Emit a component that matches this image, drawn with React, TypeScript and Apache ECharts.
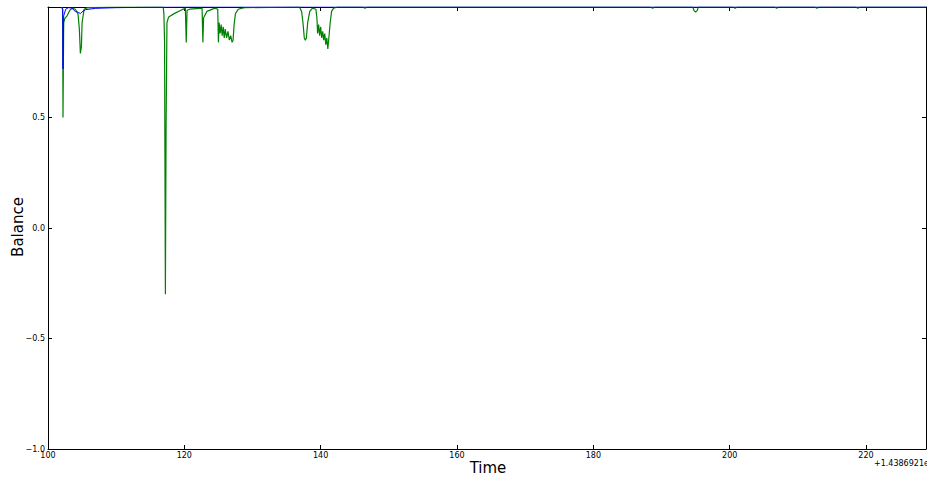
import React, { useEffect, useRef } from "react";
import * as echarts from "echarts";

// Time offsets (seconds past 1.4386921e9) and balance values
const greenSeries: [number, number][] = [
  [102.0, 1.0], [102.15, 0.99], [102.2, 0.5], [102.3, 0.93], [102.5, 0.95], [102.8, 0.96],
  [103.2, 0.985], [103.6, 0.995], [104.0, 0.99], [104.4, 0.97], [104.6, 0.9], [104.75, 0.79],
  [104.9, 0.82], [105.0, 0.93], [105.3, 0.99], [105.8, 0.997], [110.0, 0.999], [116.9, 1.0],
  [117.0, 0.97], [117.1, 0.84], [117.22, -0.3], [117.32, 0.44], [117.45, 0.93], [117.7, 0.955],
  [118.5, 0.97], [119.5, 0.985], [120.15, 0.995], [120.28, 0.84], [120.4, 0.985], [120.8, 0.99],
  [122.6, 0.995], [122.72, 0.84], [122.82, 0.95], [123.3, 0.98], [124.5, 0.995], [124.9, 0.99],
  [125.0, 0.84], [125.1, 0.93], [125.25, 0.88], [125.4, 0.92], [125.55, 0.87], [125.7, 0.91],
  [125.85, 0.86], [126.0, 0.9], [126.2, 0.86], [126.4, 0.89], [126.6, 0.85], [126.8, 0.87],
  [127.0, 0.84], [127.15, 0.85], [127.3, 0.92], [127.5, 0.97], [127.9, 0.99], [128.8, 0.997],
  [136.9, 1.0], [137.2, 0.98], [137.4, 0.93], [137.6, 0.86], [137.75, 0.85], [137.9, 0.86],
  [138.1, 0.93], [138.4, 0.98], [138.8, 0.995], [139.3, 0.99], [139.45, 0.95], [139.55, 0.88],
  [139.7, 0.92], [139.85, 0.87], [140.0, 0.91], [140.15, 0.86], [140.3, 0.89], [140.45, 0.85],
  [140.6, 0.88], [140.75, 0.83], [140.9, 0.86], [141.05, 0.81], [141.2, 0.86], [141.4, 0.93],
  [141.6, 0.98], [141.9, 0.995], [142.5, 1.0], [146.2, 1.0], [146.5, 0.994], [146.8, 1.0],
  [188.4, 1.0], [188.7, 0.994], [189.0, 1.0], [194.6, 1.0], [194.75, 0.985], [195.0, 0.977],
  [195.25, 0.985], [195.4, 1.0], [200.5, 1.0], [200.8, 0.994], [201.1, 1.0], [206.6, 1.0],
  [206.9, 0.994], [207.2, 1.0], [212.5, 1.0], [212.8, 0.994], [213.1, 1.0], [218.5, 1.0],
  [218.8, 0.994], [219.1, 1.0], [228.8, 1.0],
];

const blueSeries: [number, number][] = [
  [102.0, 1.0], [102.15, 0.99], [102.2, 0.72], [102.3, 0.96], [102.6, 0.99], [103.0, 0.997],
  [103.5, 0.995], [104.0, 0.98], [104.5, 0.975], [104.75, 0.97], [105.0, 0.978], [105.5, 0.988],
  [107.0, 0.994], [110.0, 0.997], [115.0, 0.999], [120.0, 1.0], [228.8, 1.0],
];

const xMin = 100;
const xMax = 228.8;
const xInterval = 20;
const yMin = -1;
const yMax = 1;
const yInterval = 0.5;
const offsetText = "+1.4386921e9";

const FONT = "DejaVu Sans";

const fmtY = (v: number) => (v === yMax ? "" : v.toFixed(1).replace("-", "\u2212"));
const fmtX = (v: number) => (v > 220 ? "" : String(Math.round(v)));

export default function App() {
  const ref = useRef<HTMLDivElement>(null);

  useEffect(() => {
    document.body.style.margin = "0";
    if (!ref.current) return;
    const chart = echarts.init(ref.current, undefined, { renderer: "svg" });

    const axisLine = { show: true, onZero: false, lineStyle: { color: "#000", width: 1 } };
    const tick = { show: true, inside: true, length: 4, lineStyle: { color: "#000", width: 1 } };
    const label = { color: "#000", fontSize: 8, fontFamily: FONT };

    chart.setOption({
      animation: false,
      backgroundColor: "#fff",
      grid: { left: 48, right: 1, top: 7, bottom: 28, containLabel: false },
      xAxis: [
        {
          type: "value", min: xMin, max: xMax, interval: xInterval, position: "bottom",
          axisLine, axisTick: tick, splitLine: { show: false },
          axisLabel: { ...label, margin: 2, formatter: fmtX, showMaxLabel: false },
        },
        {
          type: "value", min: xMin, max: xMax, interval: xInterval, position: "top",
          axisLine, axisTick: tick, splitLine: { show: false }, axisLabel: { show: false },
        },
      ],
      yAxis: [
        {
          type: "value", min: yMin, max: yMax, interval: yInterval, position: "left",
          axisLine, axisTick: tick, splitLine: { show: false },
          axisLabel: { ...label, margin: 3, formatter: fmtY },
        },
        {
          type: "value", min: yMin, max: yMax, interval: yInterval, position: "right",
          axisLine, axisTick: tick, splitLine: { show: false }, axisLabel: { show: false },
        },
      ],
      series: [
        {
          type: "line", data: greenSeries, showSymbol: false, symbol: "none",
          lineStyle: { color: "#008000", width: 1.2 }, z: 2, clip: true,
        },
        {
          type: "line", data: blueSeries, showSymbol: false, symbol: "none",
          lineStyle: { color: "#0000ff", width: 1 }, z: 3, clip: true,
        },
      ],
      graphic: [
        {
          type: "text", x: 488, y: 468,
          style: {
            text: "Time", fontSize: 15, fontFamily: FONT, fill: "#000",
            align: "center", verticalAlign: "middle",
          },
        },
        {
          type: "text", x: 18, y: 227, rotation: Math.PI / 2,
          style: {
            text: "Balance", fontSize: 15, fontFamily: FONT, fill: "#000",
            align: "center", verticalAlign: "middle",
          },
        },
        {
          type: "text", x: 874, y: 463,
          style: {
            text: offsetText, fontSize: 8, fontFamily: FONT, fill: "#000",
            align: "left", verticalAlign: "middle",
          },
        },
      ],
    });

    return () => chart.dispose();
  }, []);

  return <div ref={ref} style={{ width: 927, height: 477 }} />;
}
